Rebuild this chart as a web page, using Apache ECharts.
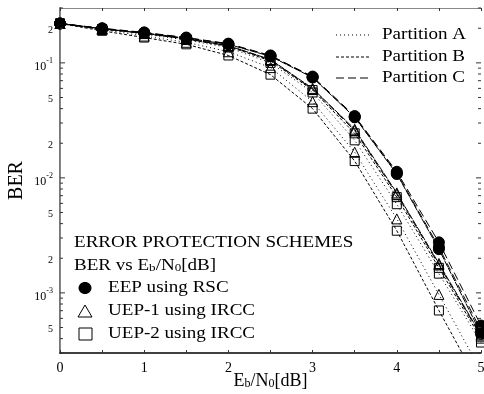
<!DOCTYPE html>
<html>
<head>
<meta charset="utf-8">
<script src="https://cdn.jsdelivr.net/npm/echarts@6/dist/echarts.min.js"></script>
<style>html,body{margin:0;padding:0;background:#fff;}#c{width:484px;height:394px;}</style>
</head>
<body>
<div id="c"></div>
<script>
// ---- data ----
const ebn0 = [0, 0.5, 1, 1.5, 2, 2.5, 3, 3.5, 4, 4.5, 5];

const eepA = [0.22, 0.198, 0.182, 0.164, 0.145, 0.114, 0.0746, 0.0336, 0.0108, 0.00240, 0.00044];
const eepB = [0.22, 0.199, 0.183, 0.165, 0.146, 0.115, 0.0752, 0.0339, 0.0110, 0.00250, 0.00047];
const eepC = [0.22, 0.200, 0.184, 0.166, 0.147, 0.116, 0.0760, 0.0345, 0.0113, 0.00275, 0.00052];

const uep1A = [0.22, 0.195, 0.171, 0.151, 0.125, 0.091, 0.046, 0.0167, 0.0044, 0.00097, 0.00021];
const uep1B = [0.22, 0.198, 0.181, 0.162, 0.141, 0.107, 0.060, 0.0265, 0.0074, 0.0018, 0.00043];
const uep1C = [0.22, 0.198, 0.181, 0.162, 0.141, 0.106, 0.059, 0.0258, 0.0072, 0.00175, 0.00042];

const uep2A = [0.22, 0.190, 0.166, 0.145, 0.116, 0.079, 0.040, 0.0140, 0.00347, 0.000703, 0.00015];
const uep2B = [0.22, 0.197, 0.180, 0.161, 0.139, 0.104, 0.058, 0.0244, 0.0068, 0.00165, 0.00040];
const uep2C = [0.22, 0.196, 0.178, 0.158, 0.136, 0.100, 0.0553, 0.0212, 0.0059, 0.00147, 0.00037];

const xTickLabels = ['0', '1', '2', '3', '4', '5'];
const yMajorTicks = [0.001, 0.01, 0.1];
const yMajorLabels = ['{b|10}{s|-3}', '{b|10}{s|-2}', '{b|10}{s|-1}'];
const yLabeledMinor = [0.0005, 0.002, 0.005, 0.02, 0.05, 0.2];
const yLabeledMinorText = ['5', '2', '5', '2', '5', '2'];
const yMin = 0.0003, yMax = 0.3;

const partitionNames = ['Partition A', 'Partition B', 'Partition C'];
const schemeNames = ['EEP using RSC', 'UEP-1 using IRCC', 'UEP-2 using IRCC'];

// ---- styles ----
const FONT = '"Liberation Serif", "Times New Roman", serif';
const STRETCH = 1.19;
const dashA = [1, 3];
const dashB = [3, 2];
const dashC = [8, 4];
const dashSolidish = [7, 1];

// build y tick list (minor ticks 2..9 per decade)
const yTicks = [];
[1e-4, 1e-3, 1e-2, 1e-1].forEach(function (d) {
  for (let m = 1; m <= 9; m++) {
    const v = +(d * m).toPrecision(3);
    if (v < yMin || v > yMax) continue;
    let label = null;
    const mi = yMajorTicks.indexOf(v);
    if (mi >= 0) label = yMajorLabels[mi];
    const li = yLabeledMinor.indexOf(v);
    if (li >= 0) label = yLabeledMinorText[li];
    yTicks.push({ v: v, major: m === 1, label: label });
  }
});

function mkSeries(name, arr, symbol, size, filled, dash, z) {
  return {
    name: name,
    type: 'line',
    data: ebn0.map(function (x, i) { return [x, arr[i]]; }),
    symbol: symbol,
    symbolSize: size,
    showAllSymbol: true,
    clip: true,
    z: z,
    lineStyle: { color: '#000', width: 1, type: dash },
    itemStyle: filled ? { color: '#000', borderColor: '#000', borderWidth: 1 }
                      : { color: 'rgba(0,0,0,0)', borderColor: '#000', borderWidth: 1 },
    emphasis: { disabled: true },
    animation: false
  };
}

const series = [
  mkSeries('UEP-2 A', uep2A, 'rect', 9, false, dashB, 3),
  mkSeries('UEP-1 A', uep1A, 'triangle', 10, false, dashA, 3),
  mkSeries('UEP-2 C', uep2C, 'rect', 9, false, dashA, 3),
  mkSeries('UEP-2 B', uep2B, 'rect', 9, false, dashB, 3),
  mkSeries('UEP-1 C', uep1C, 'triangle', 10, false, dashC, 3),
  mkSeries('UEP-1 B', uep1B, 'triangle', 10, false, dashSolidish, 3),
  mkSeries('EEP C', eepC, 'circle', 11, true, dashC, 4),
  mkSeries('EEP B', eepB, 'circle', 11, true, dashC, 4),
  mkSeries('EEP A', eepA, 'circle', 11, true, dashSolidish, 5),
  {
    type: 'custom',
    name: 'yticks',
    coordinateSystem: 'cartesian2d',
    clip: false,
    silent: true,
    z: 10,
    data: yTicks.map(function (t) { return [0, t.v]; }),
    renderItem: function (params, api) {
      const t = yTicks[params.dataIndex];
      const pL = api.coord([0, t.v]);
      const pR = api.coord([5, t.v]);
      const len = t.major ? 5 : 3;
      const children = [
        { type: 'line', shape: { x1: pL[0], y1: pL[1], x2: pL[0] + len, y2: pL[1] }, style: { stroke: '#333', lineWidth: 1 } },
        { type: 'line', shape: { x1: pR[0], y1: pR[1], x2: pR[0] - len, y2: pR[1] }, style: { stroke: '#333', lineWidth: 1 } }
      ];
      if (t.label) {
        children.push({
          type: 'text',
          x: pL[0] - 7, y: pL[1] + 2,
          style: {
            text: t.label, x: 0, y: 0,
            align: 'right', verticalAlign: 'middle',
            fill: '#000', font: '10px ' + FONT,
            rich: {
              b: { fontSize: 12, fontFamily: FONT, lineHeight: 16, verticalAlign: 'bottom' },
              s: { fontSize: 8, fontFamily: FONT, lineHeight: 9, verticalAlign: 'top' }
            }
          }
        });
      }
      return { type: 'group', children: children };
    }
  }
];

function stretchedText(txt, x, y, size, extra) {
  const st = { text: txt, x: 0, y: 0, verticalAlign: 'middle', font: size + 'px ' + FONT, fill: '#000' };
  if (extra) Object.assign(st, extra);
  return { type: 'text', x: x, y: y, scaleX: STRETCH, style: st };
}

const graphic = [];
// partition legend (top right)
const pY = [35, 57, 78];
const pDash = [dashA, dashB, dashC];
partitionNames.forEach(function (n, i) {
  graphic.push({ type: 'line', shape: { x1: 336, y1: pY[i], x2: 371, y2: pY[i] }, style: { stroke: '#000', lineWidth: 1, lineDash: pDash[i] } });
  graphic.push(stretchedText(n, 382, pY[i], 16));
});
// scheme legend (bottom left)
graphic.push(stretchedText('ERROR PROTECTION SCHEMES', 74, 243, 16));
graphic.push(stretchedText('BER vs E{sub|b}/N{sub|0}[dB]', 74, 266, 16,
  { rich: { sub: { fontSize: 11, fontFamily: FONT, lineHeight: 11, verticalAlign: 'bottom' } } }));
const sY = [288, 311, 334];
graphic.push({ type: 'ellipse', shape: { cx: 85, cy: sY[0], rx: 6.5, ry: 6 }, style: { fill: '#000' } });
graphic.push({ type: 'polygon', shape: { points: [[85, sY[1] - 6], [92, sY[1] + 6], [78, sY[1] + 6]] }, style: { fill: 'none', stroke: '#000', lineWidth: 1 } });
graphic.push({ type: 'rect', shape: { x: 79, y: sY[2] - 6, width: 13, height: 12 }, style: { fill: 'none', stroke: '#000', lineWidth: 1 } });
schemeNames.forEach(function (n, i) {
  graphic.push(stretchedText(n, 108, sY[i], 16));
});

const option = {
  animation: false,
  backgroundColor: '#fff',
  grid: { left: 60, right: 3, top: 8, bottom: 41, containLabel: false, outerBoundsMode: 'none' },
  xAxis: [{
    type: 'value', min: 0, max: 5, interval: 0.5, position: 'bottom',
    axisLine: { lineStyle: { color: '#000', width: 1.5 } },
    axisTick: { inside: true, length: 3, lineStyle: { color: '#333' } },
    splitLine: { show: false },
    axisLabel: {
      margin: 8, color: '#000', fontFamily: FONT, fontSize: 14,
      formatter: function (v) { return Number.isInteger(v) ? xTickLabels[v] : ''; }
    },
    name: 'E{sub|b}/N{sub|0}[dB]', nameLocation: 'middle', nameGap: 19, nameMoveOverlap: false,
    nameTextStyle: { color: '#000', fontFamily: FONT, fontSize: 18,
      rich: { sub: { fontSize: 12, fontFamily: FONT, lineHeight: 12, verticalAlign: 'bottom' } } }
  }, {
    type: 'value', min: 0, max: 5, interval: 0.5, position: 'top',
    axisLine: { show: true, lineStyle: { color: '#888', width: 1 } },
    axisTick: { inside: true, length: 3, lineStyle: { color: '#333' } },
    axisLabel: { show: false }, splitLine: { show: false }
  }],
  yAxis: [{
    type: 'log', logBase: 10, min: yMin, max: yMax, position: 'left',
    axisLine: { show: true, lineStyle: { color: '#777', width: 2 } },
    axisTick: { show: false }, axisLabel: { show: false }, splitLine: { show: false },
    minorTick: { show: false },
    name: 'BER', nameLocation: 'middle', nameGap: 33, nameRotate: 90, nameMoveOverlap: false,
    nameTextStyle: { color: '#000', fontFamily: FONT, fontSize: 20 }
  }, {
    type: 'log', logBase: 10, min: yMin, max: yMax, position: 'right',
    axisLine: { show: true, lineStyle: { color: '#888', width: 1 } },
    axisTick: { show: false }, axisLabel: { show: false }, splitLine: { show: false }
  }],
  series: series,
  graphic: graphic
};

const chart = echarts.init(document.getElementById('c'), null, { renderer: 'canvas' });
chart.setOption(option);
</script>
</body>
</html>
